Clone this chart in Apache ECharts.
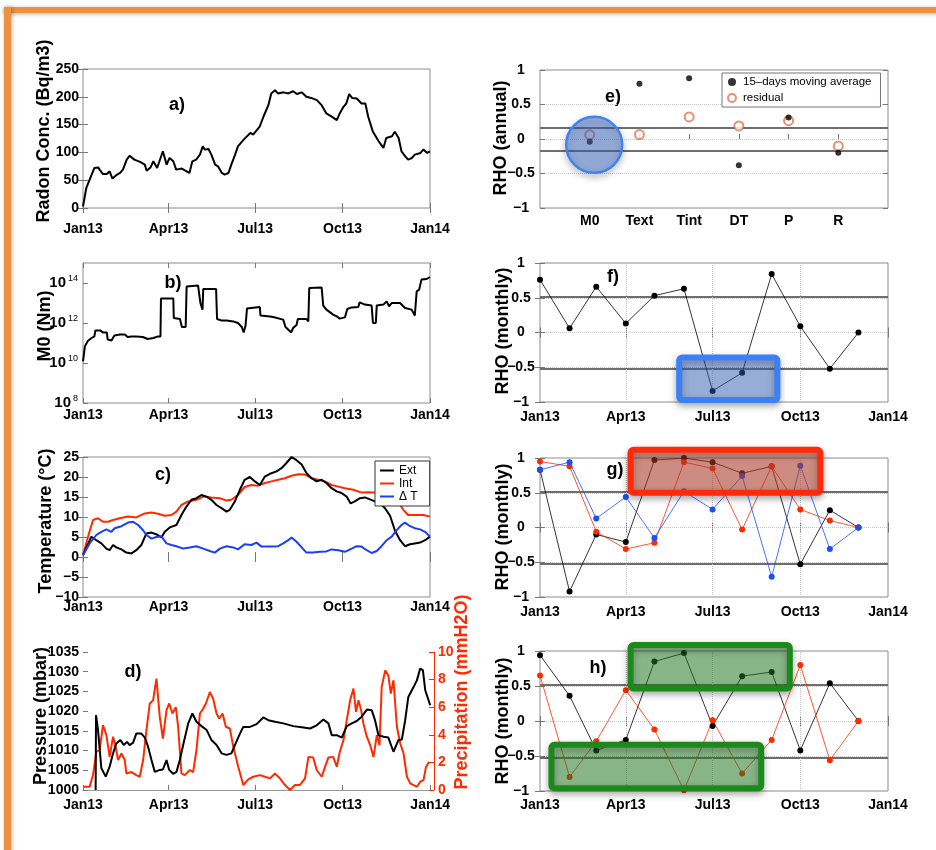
<!DOCTYPE html>
<html><head><meta charset="utf-8">
<script src="https://cdn.jsdelivr.net/npm/echarts@6/dist/echarts.min.js"></script>
<style>html,body{margin:0;padding:0;background:#fff}#c{width:936px;height:850px}</style>
</head><body><div id="c"></div>
<script>
// ---------- axis ticks ----------
const quarterLabels = ['Jan13','Apr13','Jul13','Oct13','Jan14'];
const quarterMonths = [[2013,0],[2013,3],[2013,6],[2013,9],[2014,0]];
const monthStarts = [[2013,0],[2013,1],[2013,2],[2013,3],[2013,4],[2013,5],[2013,6],[2013,7],[2013,8],[2013,9],[2013,10],[2013,11]];
const m0TickExp = [8,10,12,14];

// ---------- a) Radon (x = days since 1 Jan 2013) ----------
const radonDay = [0,3.5,7,12,16,17.5,21,25,28,31,35,39,42,46,49,51,54,60,65,67,71,74,78,84,88,91,95,98,104,109,112,115,119,123,126,128,132,135,139,142,146,149,153,156,160,163,169,176,179,186,190,195,198,202,205,211,216,221,225,230,235,240,246,251,256,262,267,270,274,277,280,283,288,293,297,300,305,311,316,319,325,328,332,335,339,342,346,349,355,358,362,365];
const radonConc = [3,36,51,72,73,69,61,61,66,53,59,63,69,87,94,96,87,83,78,67,73,84,72,102,78,90,84,69,71,66,63,84,87,96,111,105,106,96,78,75,63,60,63,78,96,111,123,135,132,147,165,185,206,212,206,208,206,210,205,208,200,198,194,185,170,164,158,170,182,188,205,198,197,188,188,164,137,120,108,126,129,137,126,102,93,87,90,96,99,105,99,102];

// ---------- b) M0 (log10 of Nm read on the log axis) ----------
const m0Day = [0,2,5,9,12,13,18,21,25,26,30,33,39,44,47,51,56,63,68,74,79,81.5,82,95,95.5,102,104,108,109,121,123.5,125.7,126.5,140,141,146,151,158,163,167,169,171,172.5,186,186.7,196.6,200,202,210.6,213,219,221,224.6,226,235,237,238,251,252.7,256,260,263,267,270,275.5,278,282.6,289.6,291,296.6,303.6,305,308,309,316,319.4,322,324.7,333.5,338.7,345.7,349,351,353.6,356,361.5,365];
const m0Exponent = [10.08,10.83,11.1,11.25,11.33,11.63,11.63,11.53,11.53,11.17,11.13,11.38,11.42,11.42,11.3,11.33,11.33,11.3,11.2,11.25,11.33,11.33,13.22,13.22,12.25,12.2,11.8,11.8,13.83,13.88,13.0,12.67,13.7,13.7,12.2,12.12,12.13,12.08,12.0,11.8,11.53,11.87,12.72,12.8,12.37,12.33,12.3,12.2,12.17,11.8,11.53,11.75,11.9,12.2,12.2,12.08,13.75,13.78,12.87,12.67,12.53,12.42,12.33,12.22,12.28,12.7,12.78,12.8,13.03,12.92,12.87,12.0,12.0,12.88,12.92,13.08,12.83,13.0,13.0,12.75,12.67,12.37,13.58,13.67,14.17,14.2,14.3];

// ---------- c) Temperature ----------
const extDay = [0,8.8,14,19.3,24.6,28,31.6,35,40.4,45.6,51,56,61.4,66.7,72,77,82.5,86,91.3,98.3,103.5,108.8,114,119.3,124.6,130,135,140.4,145.7,151,154.4,159.7,165,170,175.5,180.8,186,191.3,196.6,203.6,208.8,214,219.4,224.6,230,235,240.4,245.7,251,256,261.5,266.8,272,277.3,281.5,286,291.3,296.6,301.9,307,312.4,317.7,323,328,333.5,338.7,344,349,354.5,359.8,365];
const extTemp = [0.46,5.07,4.2,3.4,2.1,1.7,3.0,2.4,1.9,1.1,0.9,1.7,3.0,5.9,6.1,5.7,4.9,6.3,7.4,8.0,10.5,12.6,14.3,14.7,15.5,15.1,14.3,13.0,12.2,11.35,11.8,13.9,16.8,19.3,20.0,18.9,18.0,20.1,20.8,21.4,22.2,23.5,25.0,24.2,23.1,21.0,19.7,18.9,19.3,18.5,17.2,16.4,16.0,15.1,13.4,13.9,14.7,14.9,14.4,13.9,13.4,12.2,10.3,6.7,4.2,2.7,3.2,3.4,3.6,4.2,5.1];
const intDay = [0,5.3,10.5,15.8,21,26.3,31.6,38.6,47.4,56,65,72,79,86,93,98.3,103.5,110.6,119.3,126.4,135,144,151,156,163,170,177,184,191.3,198.3,205.3,212.4,219.4,226.4,233.4,240.4,247.5,254.5,261.5,268.5,275.5,284.3,293,300,305.4,316,326.4,333.5,337,342,351,358,365];
const intTemp = [0.46,5.07,9.25,9.7,8.8,8.8,9.25,9.7,10.1,9.9,10.9,11.1,10.8,10.3,10.5,11.35,13.0,13.9,14.3,15.1,14.9,14.7,14.1,14.3,15.5,17.5,18.0,17.8,18.5,18.9,19.3,19.7,20.3,20.7,20.6,19.7,19.3,18.9,18.0,17.6,17.2,16.8,16.1,16.2,16.1,15.8,14.7,13.0,11.8,10.5,10.5,10.5,10.1];
const dtDay = [0,7,14,19.3,24.6,29.8,33.3,40.4,47.4,52.7,58,63.2,66.7,72,77.2,82.5,87.8,93,98.3,105.3,112.3,119.3,126.4,133.4,138.6,144,151,158,163,170,177,182.5,187.8,196.6,205.3,210.6,215.9,219.4,224.6,230,235,242,249,256,261.5,268.5,275.5,282.6,287.8,293,298.4,303.6,309,314,319.4,324.7,330,335,338.7,344,349,354.5,359.8,365];
const dtTemp = [0.46,3.4,5.5,6.3,6.9,6.3,7.2,7.7,8.6,8.8,8.0,6.7,5.5,4.6,5.0,5.2,3.4,3.0,2.7,2.1,2.4,2.7,2.1,1.5,1.1,2.1,2.7,2.4,1.9,3.2,3.0,3.6,2.6,2.6,2.7,3.4,4.2,4.9,3.8,2.4,1.1,1.1,1.3,1.4,1.9,1.7,1.3,2.1,2.7,2.6,1.7,1.0,1.5,2.7,4.2,5.1,6.7,8.0,8.6,7.7,7.2,6.9,6.3,5.1];

// ---------- d) Pressure / Precipitation ----------
const presDay = [13.3,13.7,15.8,19.3,23.9,28,31.6,35,39.3,42.8,46.3,49,52.7,56,61.4,65,68.4,72,75.5,80.7,84,87.8,90.6,94.8,98.3,101.8,105.3,110.6,115,119.3,124.6,130,135,140.4,145.7,151,156,159.7,165,168.5,175.5,182.5,189.5,194.8,201.8,210.6,221,230,238.7,245.7,252.7,258,261.5,266.8,272,277.3,282.6,287.8,293,298.4,303.6,307,310.6,316,321,326.4,331.7,335.2,338.7,342,347.5,351,354.5,357.3,359.8,365];
const presMbar = [1000,1019,1015.2,1005.5,1003.4,1005.9,1009.3,1011.8,1012.7,1011.4,1012.2,1011.4,1012,1014.3,1014.3,1013.3,1011,1007.6,1004.6,1005.1,1005.2,1007.6,1005.1,1004.1,1004.6,1007.6,1011.4,1016.9,1019.4,1017.3,1016.2,1015.2,1012.7,1011.4,1009.3,1008.9,1009.3,1011.4,1014.3,1016.0,1016.0,1016.7,1018.4,1017.7,1017.3,1016.9,1016.2,1015.9,1015.6,1016.4,1017.9,1016.9,1013.9,1013.9,1013.3,1016.2,1016.9,1017.5,1018.6,1020.4,1020.2,1017.7,1013.9,1013.5,1013.3,1009.7,1012.7,1012.8,1017.7,1023.6,1026.1,1027.8,1030.8,1030.4,1025.3,1021.5];
const precDay = [0,7,10.5,14,17.5,21,24.6,28,31.6,34.4,36.9,40.4,43.9,45.6,51,56,59.7,63.2,66.7,70.2,73.7,77.2,80.7,84,87.8,90.6,94,97.6,100,103.5,107,112.3,115.8,119.3,122.9,126.4,129.2,133.4,136.9,140.4,143.2,146.7,150.2,154.4,158,163.2,168.5,173.7,179,186,191.3,196.6,201.8,207,212.4,217.6,222.9,228,233.4,237,242,245.7,251,254.5,258,263,266.8,270,273.8,277.3,280.8,284.3,287,289.6,292.4,294.8,298.4,301.9,305.4,308.9,311.7,314,317.7,321,323.6,326.4,330,333.5,337,340.5,344,347.5,351,354.5,358,360.6,364];
const precMm = [0.24,0.24,1.08,2.77,2.9,4.7,3.98,2.4,3.86,3.1,2.17,2.65,2.17,1.2,1.3,1.08,0.96,2.17,4.34,6.27,6.5,8.07,5.3,3.73,5.78,6.27,5.54,6.0,4.58,1.2,1.08,1.45,1.3,2.9,5.54,5.9,6.27,7.1,6.6,5.54,5.18,5.54,4.58,4.46,3.13,1.69,0.36,0.77,0.96,1.08,0.96,0.84,1.2,0.84,0.36,0.0,0.36,0.36,0.84,2.4,2.36,1.45,0.96,1.69,2.36,2.4,1.69,2.77,3.6,5.06,6.5,7.35,5.66,6.5,5.78,4.82,3.86,3.25,2.4,3.98,3.25,7.47,8.67,8.3,6.99,7.95,4.58,3.37,2.65,0.96,0.48,0.36,0.24,0.6,0.72,1.69,2.05];

// ---------- e) annual RHO ----------
const eCats = ['M0','Text','Tint','DT','P','R'];
const eMoving = [-0.04,0.80,0.88,-0.38,0.31,-0.20];
const eResidual = [0.06,0.065,0.32,0.19,0.265,-0.10];
const annualThreshold = [0.165,-0.165];
const eCircle = [1.09,-0.085];

// ---------- f,g,h) monthly RHO ----------
const monthlyThreshold = [0.52,-0.52];
const rhoF = [0.76,0.06,0.66,0.13,0.53,0.63,-0.84,-0.58,0.84,0.09,-0.52,0.0];
const rhoGBlack = [0.83,-0.92,-0.10,-0.21,0.97,1.0,0.94,0.78,0.88,-0.53,0.25,0.0];
const rhoGRed = [0.95,0.88,-0.06,-0.31,-0.22,0.94,0.85,-0.03,0.88,0.26,0.10,0.0];
const rhoGBlue = [0.83,0.94,0.13,0.44,-0.15,0.52,0.26,0.74,-0.71,0.89,-0.31,0.0];
const rhoHBlack = [0.94,0.36,-0.42,-0.27,0.85,0.97,-0.07,0.64,0.70,-0.42,0.54,0.0];
const rhoHRed = [0.65,-0.80,-0.29,0.44,-0.12,-0.99,0.01,-0.75,-0.27,0.80,-0.56,0.0];
// highlight boxes: [startDay, topRho, endDay, bottomRho]
const fBoxes = [[146,-0.36,249,-0.97]];
const gBoxes = [[95,1.12,294,0.50]];
const hBoxes = [[95,1.085,262,0.463],[12,-0.34,232,-0.96]];

// ---------- helpers ----------
const FONT = '"Liberation Sans", Arial, Helvetica, sans-serif';
const DAY = 86400000;
const T0 = Date.UTC(2013,0,1);
const dayOf = (y, m) => (Date.UTC(y, m, 1) - T0) / DAY;
const pairs = (days, vals) => days.map((d, i) => [d, vals[i]]);
const quarterDays = quarterMonths.map(([y, m]) => dayOf(y, m));
const monthDays = monthStarts.map(([y, m]) => dayOf(y, m));
const END = quarterDays[quarterDays.length - 1];
const monthly = vals => vals.map((v, i) => [monthDays[i], v]);
const fmtQuarter = v => { const i = quarterDays.findIndex(t => Math.abs(t - v) < 0.5); return i >= 0 ? quarterLabels[i] : ''; };
const fmtMinus = v => (v < 0 ? '\u2212' + Math.abs(v) : String(v));
const labelStyle = { fontSize: 14, fontWeight: 'bold', color: '#000', fontFamily: FONT };

function dayAxis(gi, margin, max, showLine) {
  return {
    type: 'value', gridIndex: gi, min: 0, max: max || END,
    axisLine: { show: !!showLine, lineStyle: { color: '#999', width: 1 } },
    splitLine: { show: false },
    axisTick: { inside: true, length: 5, customValues: quarterDays, lineStyle: { color: '#777' } },
    axisLabel: Object.assign({ customValues: quarterDays, formatter: fmtQuarter, margin, hideOverlap: false, showMinLabel: true, showMaxLabel: true }, labelStyle)
  };
}
// mirrored tick-only axes (top / right) like the original frame
function mirrorX(gi, ticks, max) {
  return { type: 'value', gridIndex: gi, position: 'top', min: 0, max: max, axisLine: { show: false }, splitLine: { show: false },
    axisLabel: { show: false }, axisTick: { inside: true, length: 5, customValues: ticks, lineStyle: { color: '#777' } } };
}
function leftY(gi, min, max, interval) {
  return {
    type: 'value', gridIndex: gi, min, max, interval,
    axisLine: { show: false }, splitLine: { show: false },
    axisTick: { inside: true, length: 5, lineStyle: { color: '#777' } },
    axisLabel: Object.assign({ margin: 4, formatter: fmtMinus }, labelStyle)
  };
}
function mirrorY(gi, min, max, interval) {
  return { type: 'value', gridIndex: gi, position: 'right', min, max, interval, axisLine: { show: false }, splitLine: { show: false },
    axisLabel: { show: false }, axisTick: { inside: true, length: 5, lineStyle: { color: '#777' } } };
}
function rhoY(gi) {
  return {
    type: 'value', gridIndex: gi, min: -1, max: 1, interval: 0.5,
    axisLine: { show: false },
    splitLine: { show: true, lineStyle: { type: 'dotted', color: '#c4c4c4', width: 1 } },
    axisTick: { inside: true, length: 5, lineStyle: { color: '#777' } },
    axisLabel: Object.assign({ margin: 19, align: 'center', formatter: fmtMinus }, labelStyle)
  };
}
// background reference lines (thresholds + quarter grid), drawn under the data
function refLines(xi, yi, thresholds, withQuarters) {
  const data = thresholds.map(v => ({ yAxis: v, lineStyle: { color: '#6e6e6e', width: 2, type: 'solid' } }));
  if (withQuarters) quarterDays.slice(1, 4).forEach(t => data.push({ xAxis: t, lineStyle: { color: '#c4c4c4', width: 1, type: 'dotted' } }));
  return { type: 'line', xAxisIndex: xi, yAxisIndex: yi, data: [], z: 1, silent: true,
    markLine: { z: 1, silent: true, symbol: 'none', label: { show: false }, animation: false, data } };
}
function rhoLine(name, xi, yi, vals, color) {
  return {
    name, type: 'line', xAxisIndex: xi, yAxisIndex: yi, data: monthly(vals),
    symbol: 'circle', symbolSize: 6, showSymbol: true,
    lineStyle: { color, width: 0.8 }, itemStyle: { color, borderWidth: 0 }, z: 3
  };
}
function tsLine(name, xi, yi, data, color, width) {
  return { name, type: 'line', xAxisIndex: xi, yAxisIndex: yi, data, symbol: 'none', showSymbol: false,
    lineStyle: { color, width: width || 2 }, itemStyle: { color }, z: 3 };
}
function boxSeries(xi, yi, boxes, stroke, fill) {
  return {
    type: 'custom', xAxisIndex: xi, yAxisIndex: yi, z: 20, silent: true, clip: false,
    data: boxes,
    renderItem: (params, api) => {
      const p0 = api.coord([api.value(0), api.value(1)]);
      const p1 = api.coord([api.value(2), api.value(3)]);
      return {
        type: 'rect',
        shape: { x: Math.min(p0[0], p1[0]), y: Math.min(p0[1], p1[1]), width: Math.abs(p1[0] - p0[0]), height: Math.abs(p1[1] - p0[1]), r: 3 },
        style: { fill, stroke, lineWidth: 6, shadowBlur: 7, shadowColor: 'rgba(0,0,0,0.35)', shadowOffsetY: 3 }
      };
    }
  };
}

const gridBase = { show: true, borderColor: '#8c8c8c', borderWidth: 1, backgroundColor: 'transparent', containLabel: false, outerBoundsMode: 'none' };
const titleText = (text, x, y, extra) => ({
  type: 'text', x, y, rotation: Math.PI / 2, silent: true,
  style: Object.assign({ text, fontSize: 18, fontWeight: 'bold', fontFamily: FONT, fill: '#000',
    align: 'center', verticalAlign: 'middle', textAlign: 'center', textVerticalAlign: 'middle' }, extra || {})
});
const panelText = (text, x, y) => ({
  type: 'text', x, y, silent: true,
  style: { text, fontSize: 18, fontWeight: 'bold', fontFamily: FONT, fill: '#000',
    align: 'center', verticalAlign: 'middle', textAlign: 'center', textVerticalAlign: 'middle' }
});

const option = {
  animation: false,
  backgroundColor: '#fff',
  grid: [
    Object.assign({ left: 83, top: 69, width: 347, height: 139 }, gridBase),
    Object.assign({ left: 83, top: 263, width: 347, height: 140 }, gridBase),
    Object.assign({ left: 83, top: 457, width: 347, height: 140 }, gridBase),
    Object.assign({ left: 83, top: 652, width: 351, height: 138 }, gridBase, { show: false }),
    Object.assign({ left: 540, top: 70, width: 348, height: 138 }, gridBase),
    Object.assign({ left: 540, top: 263, width: 348, height: 139 }, gridBase),
    Object.assign({ left: 540, top: 458, width: 348, height: 139 }, gridBase),
    Object.assign({ left: 540, top: 651, width: 348, height: 140 }, gridBase)
  ],
  xAxis: [
    dayAxis(0, 14),
    dayAxis(1, 5),
    dayAxis(2, 3),
    dayAxis(3, 8, END + 4, true),
    {
      type: 'value', gridIndex: 4, min: 0, max: eCats.length + 1, interval: 1,
      axisLine: { show: false }, splitLine: { show: false },
      axisTick: { inside: true, length: 5, customValues: eCats.map((c, i) => i + 1), lineStyle: { color: '#777' } },
      axisLabel: Object.assign({ customValues: eCats.map((c, i) => i + 1), formatter: v => eCats[Math.round(v) - 1] || '', margin: 6 }, labelStyle)
    },
    dayAxis(5, 8),
    dayAxis(6, 8),
    dayAxis(7, 7),
    mirrorX(0, quarterDays, END),
    mirrorX(1, quarterDays, END),
    mirrorX(2, quarterDays, END),
    mirrorX(5, quarterDays, END),
    mirrorX(6, quarterDays, END),
    mirrorX(7, quarterDays, END)
  ],
  yAxis: [
    leftY(0, 0, 250, 50),
    {
      type: 'log', logBase: 10, gridIndex: 1, min: 1e8, max: 1e15, interval: 2,
      axisLine: { show: false }, splitLine: { show: false },
      axisTick: { inside: true, length: 5, lineStyle: { color: '#777' } },
      axisLabel: {
        margin: 5, showMaxLabel: false,
        formatter: v => { const e = Math.round(Math.log10(v)); return m0TickExp.indexOf(e) >= 0 ? '{b|10}{s|' + e + '}' : ''; },
        rich: {
          b: { fontSize: 15, fontWeight: 'bold', fontFamily: FONT, color: '#000' },
          s: { fontSize: 9, fontFamily: FONT, color: '#000', padding: [0, 0, 9, 2] }
        }
      }
    },
    leftY(2, -10, 25, 5),
    leftY(3, 1000, 1035, 5),
    {
      type: 'value', gridIndex: 3, position: 'right', min: 0, max: 10, interval: 2,
      axisLine: { show: true, lineStyle: { color: '#ff2a00', width: 1 } }, splitLine: { show: false },
      axisTick: { inside: true, length: 5, lineStyle: { color: '#ff2a00' } },
      axisLabel: Object.assign({}, labelStyle, { color: '#ff2a00', margin: 4 })
    },
    rhoY(4), rhoY(5), rhoY(6), rhoY(7),
    mirrorY(0, 0, 250, 50),
    mirrorY(2, -10, 25, 5),
    mirrorY(4, -1, 1, 0.5),
    mirrorY(5, -1, 1, 0.5),
    mirrorY(6, -1, 1, 0.5),
    mirrorY(7, -1, 1, 0.5)
  ],
  legend: [
    {
      data: ['Ext', 'Int', '\u0394 T'].map(n => ({ name: n, icon: 'rect' })), orient: 'vertical', left: 375, top: 461,
      itemWidth: 14, itemHeight: 2, itemGap: 0, padding: [3, 12, 3, 5],
      backgroundColor: '#fff', borderColor: '#333', borderWidth: 1, borderRadius: 0,
      textStyle: { fontSize: 12, lineHeight: 13, fontFamily: FONT, color: '#000' }, selectedMode: false
    },
    {
      data: ['15\u2013days moving average', 'residual'], orient: 'vertical', left: 722, top: 73,
      itemWidth: 12, itemHeight: 8, itemGap: 4, padding: [3, 9, 3, 5],
      backgroundColor: '#fff', borderColor: '#777', borderWidth: 1, borderRadius: 0,
      textStyle: { fontSize: 11.5, fontFamily: FONT, color: '#000' }, selectedMode: false
    }
  ],
  series: [
    tsLine('Radon', 0, 0, pairs(radonDay, radonConc), '#000'),
    tsLine('M0', 1, 1, m0Day.map((d, i) => [d, Math.pow(10, m0Exponent[i])]), '#000'),
    tsLine('Int', 2, 2, pairs(intDay, intTemp), '#ff2a00'),
    tsLine('Ext', 2, 2, pairs(extDay, extTemp), '#000'),
    tsLine('\u0394 T', 2, 2, pairs(dtDay, dtTemp), '#1a3ff5'),
    tsLine('Precipitation', 3, 4, pairs(precDay, precMm), '#ff2a00'),
    tsLine('Pressure', 3, 3, pairs(presDay, presMbar), '#000'),
    refLines(4, 5, annualThreshold, false),
    {
      name: 'residual', type: 'scatter', xAxisIndex: 4, yAxisIndex: 5,
      data: eResidual.map((v, i) => [i + 1, v]), symbol: 'emptyCircle', symbolSize: 9,
      itemStyle: { color: '#e8704f', borderColor: '#e8704f', borderWidth: 1 }, z: 3
    },
    {
      name: '15\u2013days moving average', type: 'scatter', xAxisIndex: 4, yAxisIndex: 5,
      data: eMoving.map((v, i) => [i + 1, v]), symbol: 'circle', symbolSize: 6,
      itemStyle: { color: '#000' }, z: 4
    },
    {
      type: 'custom', xAxisIndex: 4, yAxisIndex: 5, z: 20, silent: true, clip: false,
      data: [eCircle],
      renderItem: (params, api) => {
        const c = api.coord([api.value(0), api.value(1)]);
        return { type: 'circle', shape: { cx: c[0], cy: c[1], r: 28 },
          style: { fill: 'rgba(60,110,210,0.45)', stroke: '#3f82f2', lineWidth: 2.5, shadowBlur: 7, shadowColor: 'rgba(0,0,0,0.35)', shadowOffsetY: 3 } };
      }
    },
    refLines(5, 6, monthlyThreshold, true),
    rhoLine('f', 5, 6, rhoF, '#000'),
    boxSeries(5, 6, fBoxes, '#3b80f7', 'rgba(60,110,210,0.42)'),
    refLines(6, 7, monthlyThreshold, true),
    rhoLine('g black', 6, 7, rhoGBlack, '#000'),
    rhoLine('g red', 6, 7, rhoGRed, '#ff2a00'),
    rhoLine('g blue', 6, 7, rhoGBlue, '#1a50f5'),
    boxSeries(6, 7, gBoxes, '#ff2a0a', 'rgba(200,70,50,0.5)'),
    refLines(7, 8, monthlyThreshold, true),
    rhoLine('h black', 7, 8, rhoHBlack, '#000'),
    rhoLine('h red', 7, 8, rhoHRed, '#ff2a00'),
    boxSeries(7, 8, hBoxes, '#1b8a1b', 'rgba(40,140,40,0.45)')
  ],
  graphic: [
    { type: 'rect', silent: true, shape: { x: 4, y: 7, width: 936, height: 6 }, style: { fill: '#eb9340', shadowBlur: 4, shadowColor: 'rgba(0,0,0,0.3)', shadowOffsetY: 1 } },
    { type: 'rect', silent: true, shape: { x: 4, y: 7, width: 7, height: 850 }, style: { fill: '#eb9340', shadowBlur: 4, shadowColor: 'rgba(0,0,0,0.3)', shadowOffsetX: 1 } },
    titleText('Radon Conc. (Bq/m3)', 44, 131),
    titleText('M0 (Nm)', 45, 326),
    titleText('Temperature (\u00b0C)', 46, 521),
    titleText('Pressure (mbar)', 41, 716),
    titleText('Precipitation (mmH2O)', 462, 692, { fill: '#ff2a00' }),
    titleText('RHO (annual)', 501, 138),
    titleText('RHO (monthly)', 503, 331),
    titleText('RHO (monthly)', 503, 527),
    titleText('RHO (monthly)', 503, 721),
    panelText('a)', 177, 105),
    panelText('b)', 173, 283),
    panelText('c)', 163, 475),
    panelText('d)', 133, 672),
    panelText('e)', 613, 97),
    panelText('f)', 613, 277),
    panelText('g)', 615, 470),
    panelText('h)', 598, 668)
  ]
};

const chart = echarts.init(document.getElementById('c'), null, { renderer: 'canvas', width: 936, height: 850 });
chart.setOption(option);
</script>
</body></html>
